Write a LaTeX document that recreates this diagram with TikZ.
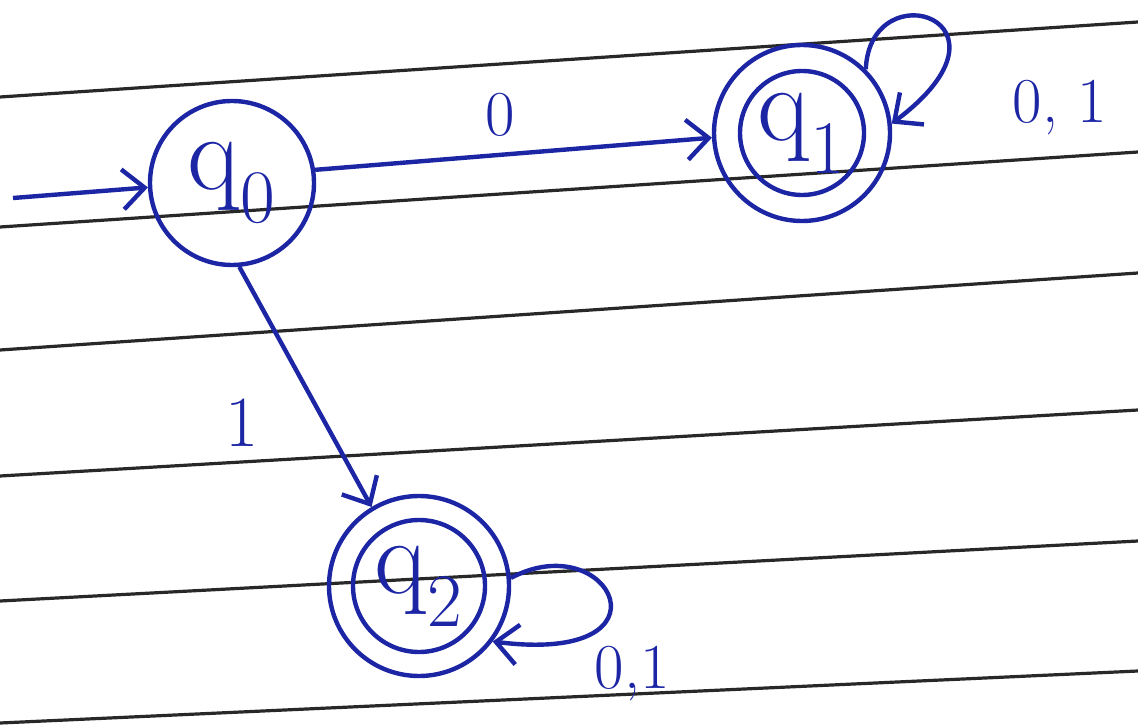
\documentclass[tikz,border=0pt]{standalone}
\usepackage{fontspec}
\usetikzlibrary{arrows.meta}
\definecolor{ink}{RGB}{28,38,165}
\definecolor{rulegray}{RGB}{40,40,40}
\begin{document}
\begin{tikzpicture}[x=0.5pt,y=-0.5pt,
  state/.style={circle,draw=ink,line width=2.2pt,text=ink,inner sep=0pt,font=\fontsize{54}{60}\selectfont},
  inner/.style={draw=ink,line width=2.2pt},
  edge/.style={draw=ink,line width=2.2pt,-{Straight Barb[length=11pt,width=20pt,line width=2.2pt]}},
  lbl/.style={text=ink,font=\fontsize{32}{38}\selectfont,inner sep=0pt},
  ruled/.style={draw=rulegray,line width=1.6pt}]
\useasboundingbox[fill=white] (0,0) rectangle (1138,726);
% ruled paper lines
\draw[ruled] (0,97) -- (1138,22);
\draw[ruled] (0,227) -- (1138,152);
\draw[ruled] (0,350) -- (1138,273);
\draw[ruled] (0,476) -- (1138,410);
\draw[ruled] (0,601) -- (1138,541);
\draw[ruled] (0,723) -- (1138,671);
% states
\node[state,minimum size=82pt] (q0) at (232,183) {q\textsubscript{0}};
\node[state,minimum size=88pt] (q1) at (802,133) {q\textsubscript{1}};
\draw[inner] (q1.center) circle[radius=31pt];
\node[state,minimum size=90pt] (q2) at (419,586) {q\textsubscript{2}};
\draw[inner] (q2.center) circle[radius=33pt];
% transitions
\coordinate (start) at (13,198);
\draw[edge] (start) -- (q0.183);
\draw[edge] (q0.9) -- (q1.183);
\draw[edge] (q0.-85) -- (q2.121);
\draw[edge] (q1.45) .. controls (870,-30) and (1030,20) .. (q1.6);
\draw[edge] (q2.5) .. controls (610,525) and (680,665) .. (q2.-37);
% labels
\node[lbl] (l0) at (500,115) {0};
\node[lbl] (l01a) at (1060,108) {0, 1};
\node[lbl,font=\fontsize{36}{42}\selectfont] (l1) at (242,423) {1};
\node[lbl] (l01b) at (632,674) {0,1};
\end{tikzpicture}
\end{document}
